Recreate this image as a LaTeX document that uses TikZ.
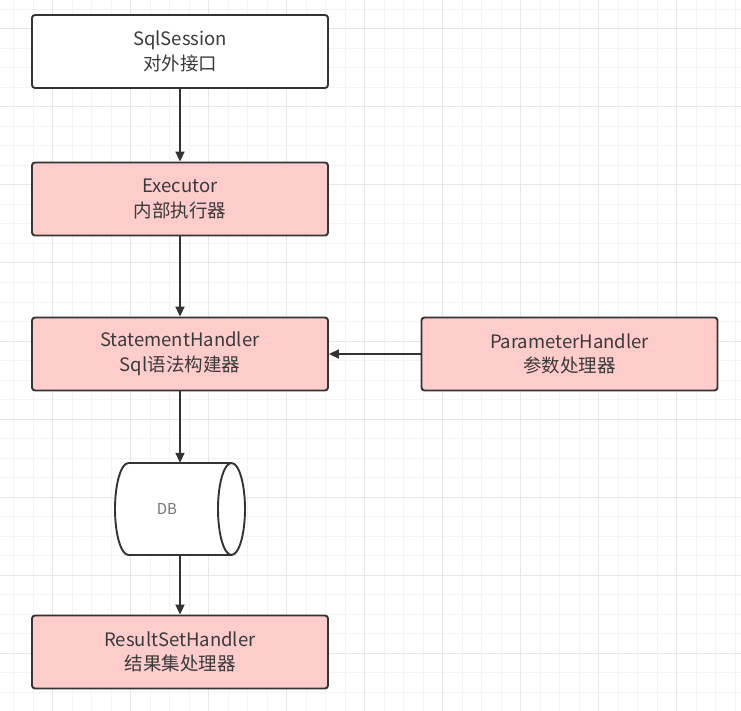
\documentclass[tikz,border=0pt]{standalone}
\usepackage{fontspec}
\setmainfont{Noto Sans CJK SC}
\usetikzlibrary{arrows.meta}
\definecolor{ink}{HTML}{333333}
\definecolor{txt}{HTML}{3A3A3A}
\definecolor{pinkfill}{HTML}{FFCCCC}
\definecolor{gridminor}{HTML}{F3F3F3}
\definecolor{gridmajor}{HTML}{E6E6E6}
\begin{document}
\begin{tikzpicture}[x=1pt,y=1pt,
  box/.style={draw=ink, line width=1.9pt, rounded corners=3pt, minimum width=296pt, minimum height=73pt, align=center, text=txt, font=\fontsize{18.5}{24.5}\selectfont, inner sep=0pt, execute at begin node={\rule{0pt}{22pt}}},
  pinkbox/.style={box, fill=pinkfill},
  whitebox/.style={box, fill=white},
  conn/.style={draw=ink, line width=1.9pt, -{Triangle[length=10pt,width=9pt]}}]
\useasboundingbox (0,0) rectangle (741,-711);
\fill[white] (0,0) rectangle (741,-711);
% grid
\foreach \i in {0,...,38} {
  \draw[gridminor, line width=1pt] (13.7+19.5*\i,0) -- (13.7+19.5*\i,-711);
  \draw[gridminor, line width=1pt] (0,-9.5-19.5*\i) -- (741,-9.5-19.5*\i);
}
\foreach \i in {0,...,9} {
  \draw[gridmajor, line width=1pt] (52.7+78*\i,0) -- (52.7+78*\i,-711);
  \draw[gridmajor, line width=1pt] (0,-29-78*\i) -- (741,-29-78*\i);
}
% nodes
\node[whitebox] (sql) at (180,-51.5) {SqlSession\\对外接口};
\node[pinkbox] (exec) at (180,-199) {Executor\\内部执行器};
\node[pinkbox] (stmt) at (180,-354) {StatementHandler\\Sql语法构建器};
\node[pinkbox] (param) at (569.5,-354) {ParameterHandler\\参数处理器};
\node[pinkbox] (res) at (180,-652) {ResultSetHandler\\结果集处理器};
% DB cylinder
\node[minimum width=130pt, minimum height=92pt, inner sep=0pt] (db) at (180,-509) {};
\draw[ink, line width=1.9pt, fill=white]
  (128.5,-463) -- (231.5,-463) arc[start angle=90, end angle=-90, x radius=13.5, y radius=46]
  -- (128.5,-555) arc[start angle=270, end angle=90, x radius=13.5, y radius=46] -- cycle;
\draw[ink, line width=1.9pt] (231.5,-463) arc[start angle=90, end angle=270, x radius=13.5, y radius=46];
\node[text=gray!90!black, font=\fontsize{15}{17}\selectfont] (dblabel) at (167,-509) {DB};
% connectors
\draw[conn] (sql) -- (exec);
\draw[conn] (exec) -- (stmt);
\draw[conn] (param) -- (stmt);
\draw[conn] (stmt) -- (db);
\draw[conn] (db) -- (res);
\end{tikzpicture}
\end{document}
